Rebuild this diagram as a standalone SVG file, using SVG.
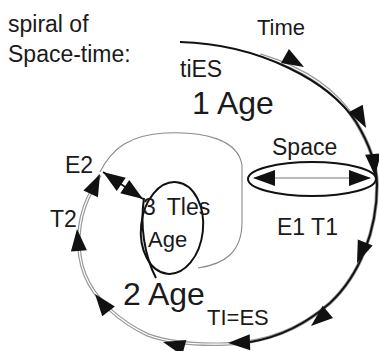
<svg xmlns="http://www.w3.org/2000/svg" xmlns:xlink="http://www.w3.org/1999/xlink" width="379" height="351" viewBox="0 0 379 351">
<defs>
<style>
text{font-family:"Liberation Sans",Arial,sans-serif;fill:#1a1a1a}
.t{font-size:23px}
.b{font-size:32px}
.m{font-size:22px}
.gd{fill:none;stroke:#9a9a9a;stroke-width:3.6}
.gw{fill:none;stroke:#fff;stroke-width:1.2}
.bk{fill:none;stroke:#111;stroke-width:2}
.thin{fill:none;stroke:#8a8a8a;stroke-width:1.1}
.el{fill:none;stroke:#111;stroke-width:2}
</style>
<path id="ah" d="M0,0 L-22,-8 L-22,8 Z" fill="#111"/>
</defs>
<rect width="379" height="351" fill="#fff"/>
<g id="connectors">
<path class="gd" d="M260,55 C310,70 340,95 356,122 C370,145 377,165 377,185 C377,230 360,275 330,303 C300,330 265,343 225,344 C195,345 170,343 148,335 C120,322 95,300 85,275 C75,250 78,220 88,198 L100,175"/>
<path class="gw" d="M260,55 C310,70 340,95 356,122 C370,145 377,165 377,185 C377,230 360,275 330,303 C300,330 265,343 225,344 C195,345 170,343 148,335 C120,322 95,300 85,275 C75,250 78,220 88,198 L100,175"/>
<path class="bk" d="M180,42 C260,44 330,82 356,122 C370,145 377,165 377,185 C377,230 360,275 330,303 C305,325 280,337 250,342"/>
<path class="thin" d="M100,172 C112,148 130,135 165,133 C205,131 238,140 242,165 L242,222 C242,252 225,264 198,268"/>
<path class="bk" d="M144,198 C140,225 144,255 156,278"/>
<line x1="103" y1="172" x2="143" y2="199" stroke="#111" stroke-width="1.6"/>
<line x1="254" y1="178" x2="370" y2="178" stroke="#777" stroke-width="1.1"/>
<use xlink:href="#ah" transform="translate(304,67) rotate(30)"/>
<use xlink:href="#ah" transform="translate(366,128) rotate(62)"/>
<use xlink:href="#ah" transform="translate(375,176) rotate(85)"/>
<use xlink:href="#ah" transform="translate(371,178)"/>
<use xlink:href="#ah" transform="translate(253,178) rotate(180)"/>
<use xlink:href="#ah" transform="translate(357,263) rotate(112)"/>
<use xlink:href="#ah" transform="translate(311,326) rotate(140)"/>
<use xlink:href="#ah" transform="translate(228,343) rotate(178)"/>
<use xlink:href="#ah" transform="translate(163,342) rotate(195)"/>
<use xlink:href="#ah" transform="translate(95,294) rotate(-128)"/>
<use xlink:href="#ah" transform="translate(77,229) rotate(-95)"/>
<use xlink:href="#ah" transform="translate(100,174) rotate(-65)"/>
<use xlink:href="#ah" transform="translate(103,172) rotate(-146)"/>
<use xlink:href="#ah" transform="translate(143,199) rotate(34)"/>
</g>
<g id="space">
<ellipse class="el" cx="312" cy="179" rx="64" ry="17"/>
</g>
<g id="age3">
<ellipse class="el" cx="172" cy="228" rx="31" ry="46" transform="rotate(6 172 228)"/>
<text class="t" x="143" y="215" style="word-spacing:5px">3 Tles</text>
<text class="m" x="148" y="247">Age</text>
</g>
<g id="labels">
<text class="t" x="8" y="32">spiral of</text>
<text class="t" x="8" y="62">Space-time:</text>
<text class="m" x="257" y="35">Time</text>
<text class="t" x="180" y="77">tiES</text>
<text class="b" x="192" y="114">1 Age</text>
<text class="t" x="272" y="155">Space</text>
<text class="t" x="65" y="173">E2</text>
<text class="t" x="50" y="227">T2</text>
<text class="t" x="277" y="235">E1 T1</text>
<text class="b" x="123" y="305">2 Age</text>
<text class="m" x="207" y="325">TI=ES</text>
</g>
</svg>
